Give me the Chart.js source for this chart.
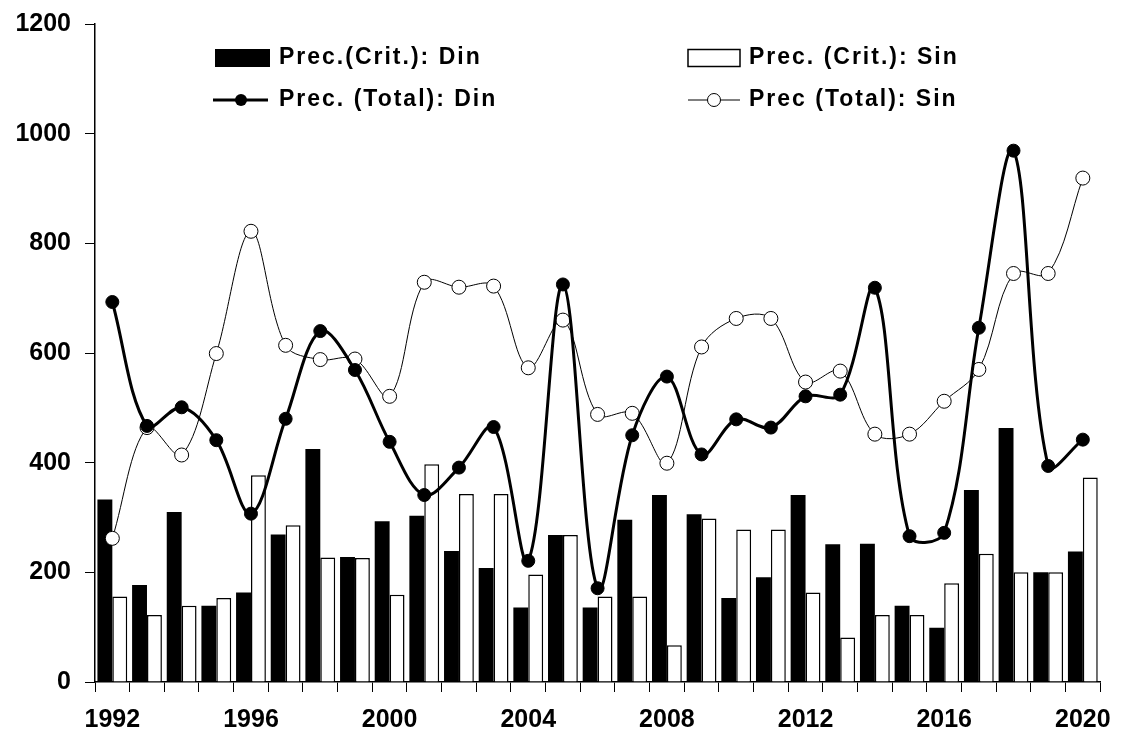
<!DOCTYPE html>
<html>
<head>
<meta charset="utf-8">
<script src="https://cdn.jsdelivr.net/npm/chart.js@4/dist/chart.umd.min.js"></script>
<style>
  body { margin: 0; background: #fff; }
  #wrap { width: 1124px; height: 738px; position: relative; }
</style>
</head>
<body>
<div id="wrap"><canvas id="myChart"></canvas></div>
<script>
const years = ["1992","1993","1994","1995","1996","1997","1998","1999","2000","2001",
  "2002","2003","2004","2005","2006","2007","2008","2009","2010","2011",
  "2012","2013","2014","2015","2016","2017","2018","2019","2020"];

// bars: critical precipitation
const critDin = [333,177,310,139,163,269,425,228,293,303,239,208,136,268,136,296,341,306,153,191,341,251,252,139,99,350,463,200,238];
const critSin = [156,122,139,153,377,286,227,226,159,397,343,343,196,268,156,156,67,298,278,278,163,81,122,122,180,234,200,200,373];

// lines: total precipitation
const totalDin = [693,467,501,441,307,480,640,569,438,341,391,465,221,725,171,450,557,415,479,464,521,524,719,266,272,646,969,394,442];
const totalSin = [262,464,414,599,822,614,588,589,521,729,720,722,573,660,488,490,399,611,663,663,547,567,452,452,512,570,745,745,919];

const yTicks = [0, 200, 400, 600, 800, 1000, 1200];

const fontFamily = '"Liberation Sans", Arial, sans-serif';

// legend drawn inside the plot, two columns like the original
const insideLegend = {
  id: "insideLegend",
  afterDraw(chart) {
    const ctx = chart.ctx;
    const left = chart.chartArea.left;
    const top = chart.chartArea.top;
    const col1 = left + 120;
    const col2 = left + 593;
    const row1 = top + 34;
    const row2 = top + 76;
    ctx.save();
    ctx.font = "bold 23px " + fontFamily;
    ctx.letterSpacing = "2px";
    ctx.fillStyle = "#000";
    ctx.strokeStyle = "#000";
    ctx.textBaseline = "middle";

    // black bar
    ctx.fillRect(col1, row1 - 9, 55, 18);
    ctx.fillText("Prec.(Crit.): Din", col1 + 64, row1);

    // white bar
    ctx.lineWidth = 1.5;
    ctx.fillStyle = "#fff";
    ctx.fillRect(col2, row1 - 8.5, 52, 17);
    ctx.strokeRect(col2, row1 - 8.5, 52, 17);
    ctx.fillStyle = "#000";
    ctx.fillText("Prec. (Crit.): Sin", col2 + 61, row1);

    // thick line, filled marker
    ctx.lineWidth = 3;
    ctx.beginPath();
    ctx.moveTo(col1 - 2, row2);
    ctx.lineTo(col1 + 53, row2);
    ctx.stroke();
    ctx.beginPath();
    ctx.arc(col1 + 26, row2, 6, 0, Math.PI * 2);
    ctx.fill();
    ctx.fillText("Prec. (Total): Din", col1 + 64, row2);

    // thin line, hollow marker
    ctx.lineWidth = 1;
    ctx.beginPath();
    ctx.moveTo(col2, row2);
    ctx.lineTo(col2 + 52, row2);
    ctx.stroke();
    ctx.beginPath();
    ctx.arc(col2 + 26, row2, 6.5, 0, Math.PI * 2);
    ctx.fillStyle = "#fff";
    ctx.fill();
    ctx.stroke();
    ctx.fillStyle = "#000";
    ctx.fillText("Prec (Total): Sin", col2 + 61, row2);
    ctx.restore();
  }
};

const ctx = document.getElementById("myChart").getContext("2d");
const chart = new Chart(ctx, {
  type: "bar",
  data: {
    labels: years,
    datasets: [
      {
        label: "Prec.(Crit.): Din",
        data: critDin,
        backgroundColor: "#000",
        borderWidth: 0,
        categoryPercentage: 0.86,
        barPercentage: 1.0,
        order: 2
      },
      {
        label: "Prec. (Crit.): Sin",
        data: critSin,
        backgroundColor: "#fff",
        borderColor: "#000",
        borderWidth: 1.5,
        categoryPercentage: 0.86,
        barPercentage: 1.0,
        order: 2
      },
      {
        type: "line",
        label: "Prec. (Total): Din",
        data: totalDin,
        borderColor: "#000",
        borderWidth: 3,
        pointRadius: 6.5,
        pointBackgroundColor: "#000",
        pointBorderColor: "#000",
        pointBorderWidth: 1,
        tension: 0.35,
        order: 0
      },
      {
        type: "line",
        label: "Prec (Total): Sin",
        data: totalSin,
        borderColor: "#000",
        borderWidth: 1,
        pointRadius: 7,
        pointBackgroundColor: "#fff",
        pointBorderColor: "#000",
        pointBorderWidth: 1,
        tension: 0.35,
        order: 1
      }
    ]
  },
  options: {
    responsive: true,
    maintainAspectRatio: false,
    animation: false,
    layout: { padding: { top: 24, right: 21, left: 0, bottom: 0 } },
    plugins: {
      legend: { display: false },
      tooltip: { enabled: false }
    },
    scales: {
      x: {
        grid: {
          offset: true,
          drawOnChartArea: false,
          drawTicks: true,
          tickLength: 10,
          color: "#000",
          lineWidth: 1
        },
        border: { display: true, color: "#000", width: 1.5 },
        ticks: {
          autoSkip: false,
          maxRotation: 0,
          color: "#000",
          padding: 13,
          font: { family: fontFamily, size: 25, weight: "bold" },
          callback: function(value, index) {
            return index % 4 === 0 ? this.getLabelForValue(value) : "";
          }
        },
        afterFit: function(scale) { scale.height = 56; }
      },
      y: {
        min: yTicks[0],
        max: yTicks[yTicks.length - 1],
        afterBuildTicks: function(scale) {
          scale.ticks = yTicks.map(v => ({ value: v }));
        },
        grid: {
          drawOnChartArea: false,
          drawTicks: true,
          tickLength: 10,
          color: "#000",
          lineWidth: 1
        },
        border: { display: true, color: "#000", width: 1.5 },
        ticks: {
          color: "#000",
          padding: 14,
          font: { family: fontFamily, size: 25, weight: "bold", lineHeight: 0.7 },
          callback: value => String(value)
        },
        afterFit: function(scale) { scale.width = 95; }
      }
    }
  },
  plugins: [insideLegend]
});
</script>
</body>
</html>
